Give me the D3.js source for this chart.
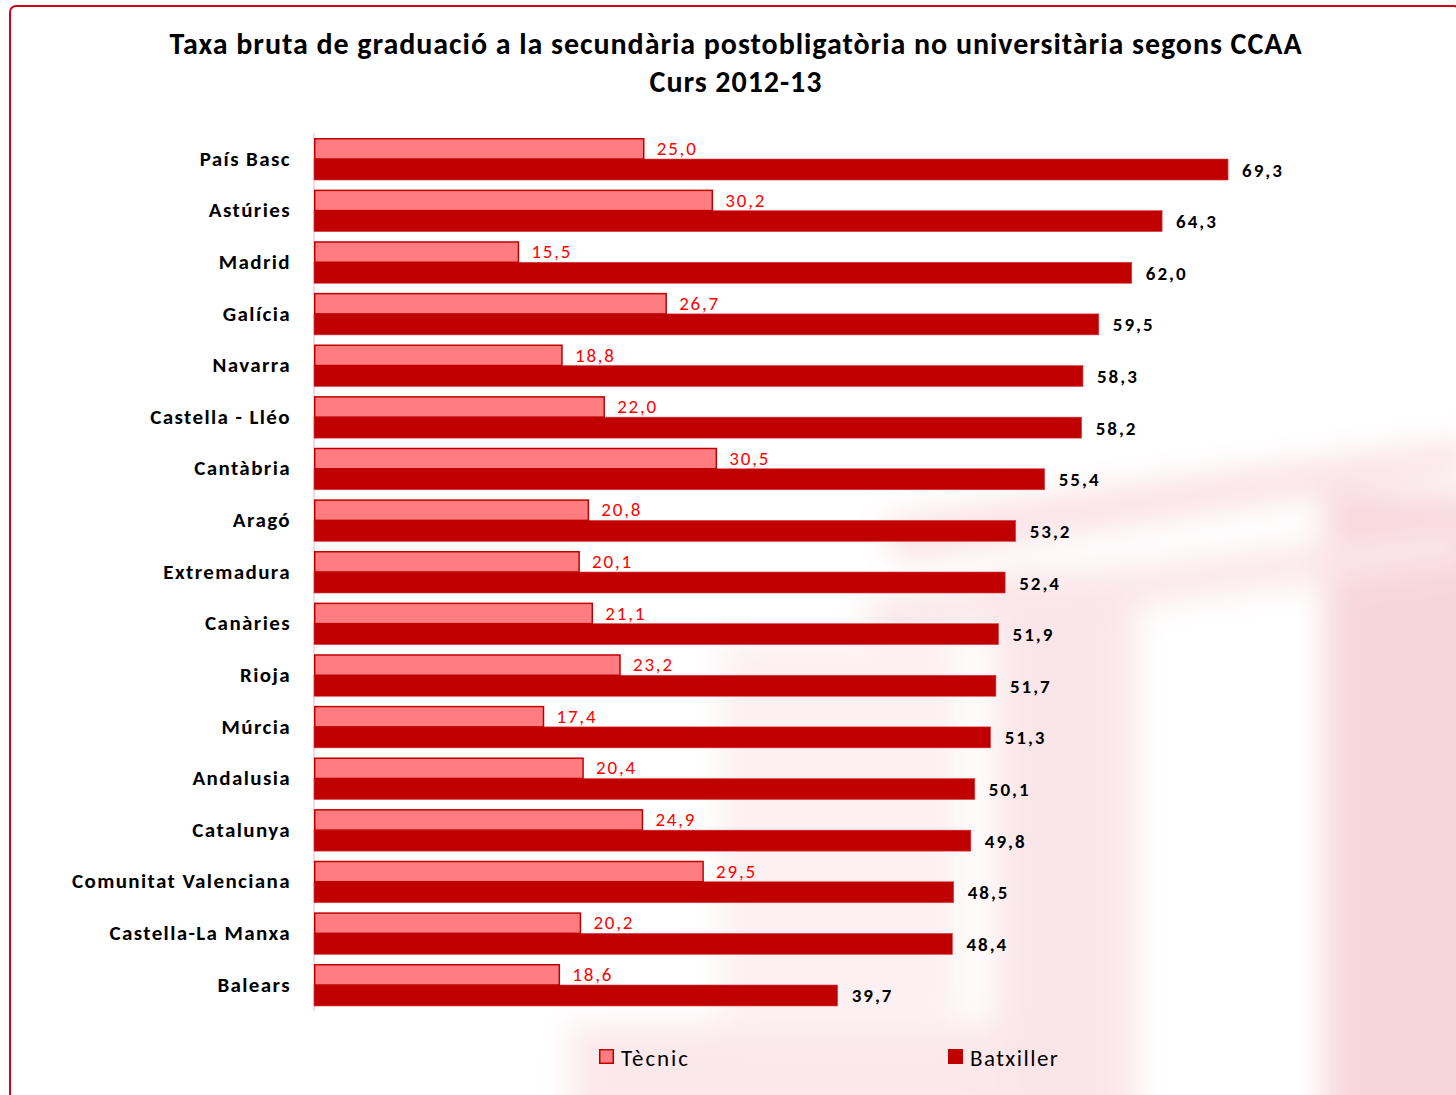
<!DOCTYPE html>
<html><head><meta charset="utf-8">
<script src="https://cdn.jsdelivr.net/npm/d3@7"></script>
<style>html,body{margin:0;padding:0;background:#fff;} svg{display:block;}</style>
</head><body>
<script>
const categories = ["País Basc","Astúries","Madrid","Galícia","Navarra","Castella - Lléo","Cantàbria","Aragó","Extremadura","Canàries","Rioja","Múrcia","Andalusia","Catalunya","Comunitat Valenciana","Castella-La Manxa","Balears"];
const tecnic = [25.0,30.2,15.5,26.7,18.8,22.0,30.5,20.8,20.1,21.1,23.2,17.4,20.4,24.9,29.5,20.2,18.6];
const batxiller = [69.3,64.3,62.0,59.5,58.3,58.2,55.4,53.2,52.4,51.9,51.7,51.3,50.1,49.8,48.5,48.4,39.7];
const seriesNames = ["Tècnic","Batxiller"];
const titleLines = ["Taxa bruta de graduació a la secundària postobligatòria no universitària segons CCAA","Curs 2012-13"];

const W = 1456, H = 1095;
const FONT = "Carlito, Lato, 'Open Sans', sans-serif";
const fmt = v => d3.format(".1f")(v).replace(".", ",");

const svg = d3.select("body").append("svg").attr("width", W).attr("height", H);
const defs = svg.append("defs");
defs.append("filter").attr("id","blur").attr("x","-30%").attr("y","-30%").attr("width","160%").attr("height","160%")
  .append("feGaussianBlur").attr("stdDeviation", 16);

// faint watermark background
const wm = svg.append("g").attr("filter","url(#blur)");
wm.append("rect").attr("x",1325).attr("y",495).attr("width",180).attr("height",640).attr("fill","#f7d6db");
wm.append("path").attr("d","M900,560 L1470,470 L1470,440 L880,520 Z").attr("fill","#fae0e4");
wm.append("path").attr("d","M880,640 L1470,560 L1470,525 L860,600 Z").attr("fill","#fbe6e9");
wm.append("rect").attr("x",995).attr("y",570).attr("width",140).attr("height",560).attr("fill","#fae6e9");
wm.append("rect").attr("x",570).attr("y",1025).attr("width",430).attr("height",100).attr("fill","#fbe8eb");
wm.append("rect").attr("x",720).attr("y",640).attr("width",240).attr("height",380).attr("fill","#fdf0f2");

// frame
svg.append("rect").attr("x",10).attr("y",6).attr("width",1450).attr("height",1100).attr("rx",6)
  .attr("fill","none").attr("stroke","#d0021b").attr("stroke-width",2);

const x = d3.scaleLinear().domain([0, 70]).range([314, 314 + 70*13.19]);
const y = d3.scaleBand().domain(categories).range([133.2, 1010.8]).paddingInner(0.186).paddingOuter(0.093);
const sub = d3.scaleBand().domain(seriesNames).range([0, y.bandwidth()]);

// title
svg.append("g").selectAll("text").data(titleLines).join("text")
  .attr("x", 736).attr("y", (d,i) => 54 + i*38)
  .attr("text-anchor","middle").attr("font-family",FONT).attr("font-weight","bold")
  .attr("font-size", 30).attr("letter-spacing", 0.95).attr("fill","#000").text(d => d);

// axis line
svg.append("line").attr("x1",x(0)).attr("x2",x(0)).attr("y1",y.range()[0]).attr("y2",y.range()[1])
  .attr("stroke","#f2b3b3").attr("stroke-width",1);

// category labels via axis
const yAxis = svg.append("g").attr("transform",`translate(${x(0) - 23},0)`)
  .call(d3.axisLeft(y).tickSize(0).tickPadding(0));
yAxis.select(".domain").remove();
yAxis.selectAll("text").attr("font-family",FONT).attr("font-weight","bold").attr("font-size",21)
  .attr("letter-spacing",1.4).attr("fill","#000");

const rows = categories.map((c,i) => ({c, t: tecnic[i], b: batxiller[i]}));
const g = svg.append("g");

// Batxiller bars
g.selectAll("rect.b").data(rows).join("rect").attr("class","b")
  .attr("x", x(0)).attr("y", d => y(d.c) + sub("Batxiller"))
  .attr("width", d => x(d.b) - x(0)).attr("height", sub.bandwidth())
  .attr("fill","#c00000").attr("stroke","#d9454a").attr("stroke-width",0.6);

// Tècnic bars
g.selectAll("rect.t").data(rows).join("rect").attr("class","t")
  .attr("x", x(0)+0.75).attr("y", d => y(d.c) + sub("Tècnic") + 0.75)
  .attr("width", d => x(d.t) - x(0) - 0.75).attr("height", sub.bandwidth() - 0.75)
  .attr("fill","#ff7c80").attr("stroke","#c00000").attr("stroke-width",1.5);

// labels
g.selectAll("text.t").data(rows).join("text").attr("class","t")
  .attr("x", d => x(d.t) + 13).attr("y", d => y(d.c) + sub("Tècnic") + sub.bandwidth()/2 + 6.5)
  .attr("font-family",FONT).attr("font-size",19).attr("letter-spacing",1.8).attr("fill","#ff0000").text(d => fmt(d.t));
g.selectAll("text.b").data(rows).join("text").attr("class","b")
  .attr("x", d => x(d.b) + 14).attr("y", d => y(d.c) + sub("Batxiller") + sub.bandwidth()/2 + 7)
  .attr("font-family",FONT).attr("font-weight","bold").attr("font-size",19).attr("letter-spacing",2.0)
  .attr("fill","#000").text(d => fmt(d.b));

// legend
const legend = [
  {name: seriesNames[0], x: 599, fill: "#ff7c80", stroke: "#c00000", ls: 1.9},
  {name: seriesNames[1], x: 948, fill: "#c00000", stroke: "#c00000", ls: 1.45}
];
const lg = svg.append("g").selectAll("g").data(legend).join("g");
lg.append("rect").attr("x", d => d.x + 0.75).attr("y", 1049.75).attr("width",13.5).attr("height",13.5)
  .attr("fill", d => d.fill).attr("stroke", d => d.stroke).attr("stroke-width",1.5);
lg.append("text").attr("x", d => d.x + 22).attr("y", 1066).attr("font-family",FONT).attr("font-size",23)
  .attr("letter-spacing", d => d.ls).attr("fill","#000").text(d => d.name);
</script>
</body></html>
